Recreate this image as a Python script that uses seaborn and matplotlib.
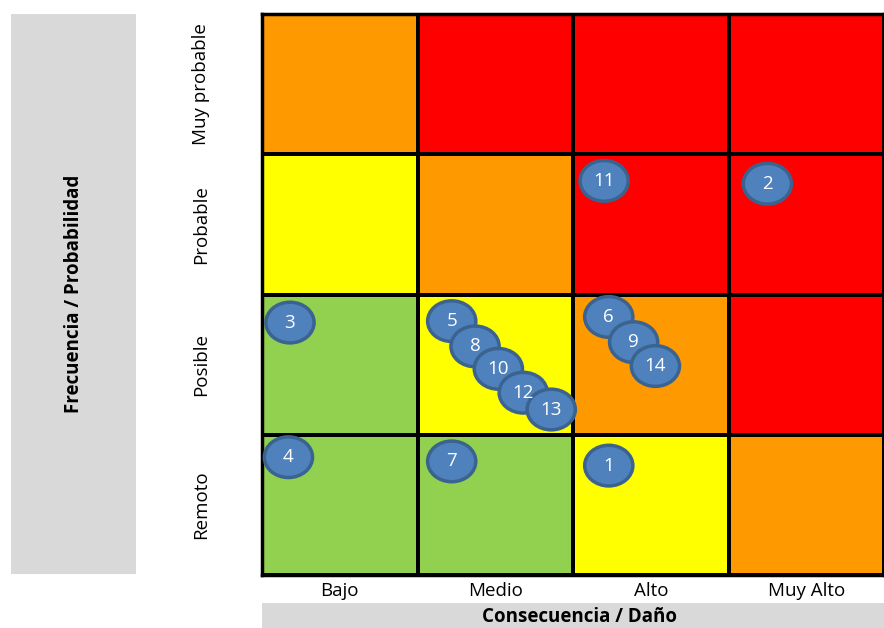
import numpy as np
import pandas as pd
import matplotlib
matplotlib.use('Agg')
import matplotlib.pyplot as plt
import seaborn as sns
from matplotlib.colors import ListedColormap
from matplotlib.patches import Ellipse, Rectangle

# datos de la matriz
consecuencia = ['Bajo', 'Medio', 'Alto', 'Muy Alto']
probabilidad = ['Muy probable', 'Probable', 'Posible', 'Remoto']
# nivel de riesgo: 1 verde, 2 amarillo, 3 naranja, 4 rojo
nivel_muy_probable = [3, 4, 4, 4]
nivel_probable = [2, 3, 4, 4]
nivel_posible = [1, 2, 3, 4]
nivel_remoto = [1, 1, 2, 3]

# riesgos (posición dentro de la celda, coordenadas del heatmap)
riesgo_id = [11, 2, 3, 5, 8, 10, 12, 13, 6, 9, 14, 4, 7, 1]
riesgo_x = [2.20, 3.25, 0.18, 1.22, 1.37, 1.52, 1.68, 1.86, 2.23, 2.39, 2.53, 0.17, 1.22, 2.23]
riesgo_y = [1.19, 1.21, 2.20, 2.19, 2.37, 2.53, 2.70, 2.82, 2.16, 2.34, 2.51, 3.16, 3.19, 3.22]

colores = ['#92D050', '#FFFF00', '#FF9900', '#FF0000']

sns.set_theme(style='white')
plt.rcParams['font.family'] = ['Open Sans', 'DejaVu Sans']
plt.rcParams['text.color'] = 'black'
plt.rcParams['xtick.color'] = 'black'
plt.rcParams['ytick.color'] = 'black'

matriz = pd.DataFrame([nivel_muy_probable, nivel_probable, nivel_posible, nivel_remoto],
                      index=probabilidad, columns=consecuencia)

fig = plt.figure(figsize=(8.84, 6.28), dpi=100)
ax = fig.add_axes([262 / 884, 53 / 628, 622 / 884, 561 / 628])

sns.heatmap(matriz, ax=ax, cmap=ListedColormap(colores), vmin=0.5, vmax=4.5,
            cbar=False, linewidths=1.6, linecolor='black', square=False)

for s in ax.spines.values():
    s.set_visible(True)
    s.set_color('black')
    s.set_linewidth(2.5)

ax.set_xlabel('')
ax.set_ylabel('')
ax.tick_params(axis='x', length=0, pad=5, labelsize=13.5)
ax.tick_params(axis='y', length=0, pad=44, labelsize=13.5)
plt.setp(ax.get_yticklabels(), rotation=90, va='center', ha='center')
plt.setp(ax.get_xticklabels(), rotation=0)

# burbujas
for rid, x, y in zip(riesgo_id, riesgo_x, riesgo_y):
    ax.add_patch(Ellipse((x, y), 0.31, 0.29, facecolor='#4F81BD',
                         edgecolor='#3B6390', linewidth=2.5, zorder=5))
    ax.text(x, y, str(rid), color='white', fontsize=13.5, ha='center', va='center', zorder=6)

# cajas grises de los títulos
fig.patches.append(Rectangle((11 / 884, 54 / 628), 125 / 884, 560 / 628,
                             transform=fig.transFigure, facecolor='#D9D9D9',
                             edgecolor='none', zorder=0))
fig.text(74 / 884, 1 - 294 / 628, 'Frecuencia / Probabilidad', rotation=90,
         ha='center', va='center', fontsize=13.5, fontweight='bold')

fig.patches.append(Rectangle((262 / 884, 0), 622 / 884, 25 / 628,
                             transform=fig.transFigure, facecolor='#D9D9D9',
                             edgecolor='none', zorder=0))
fig.text(580 / 884, 1 - 617 / 628, 'Consecuencia / Daño',
         ha='center', va='center', fontsize=13.5, fontweight='bold')

fig.savefig('out.png', dpi=100)
